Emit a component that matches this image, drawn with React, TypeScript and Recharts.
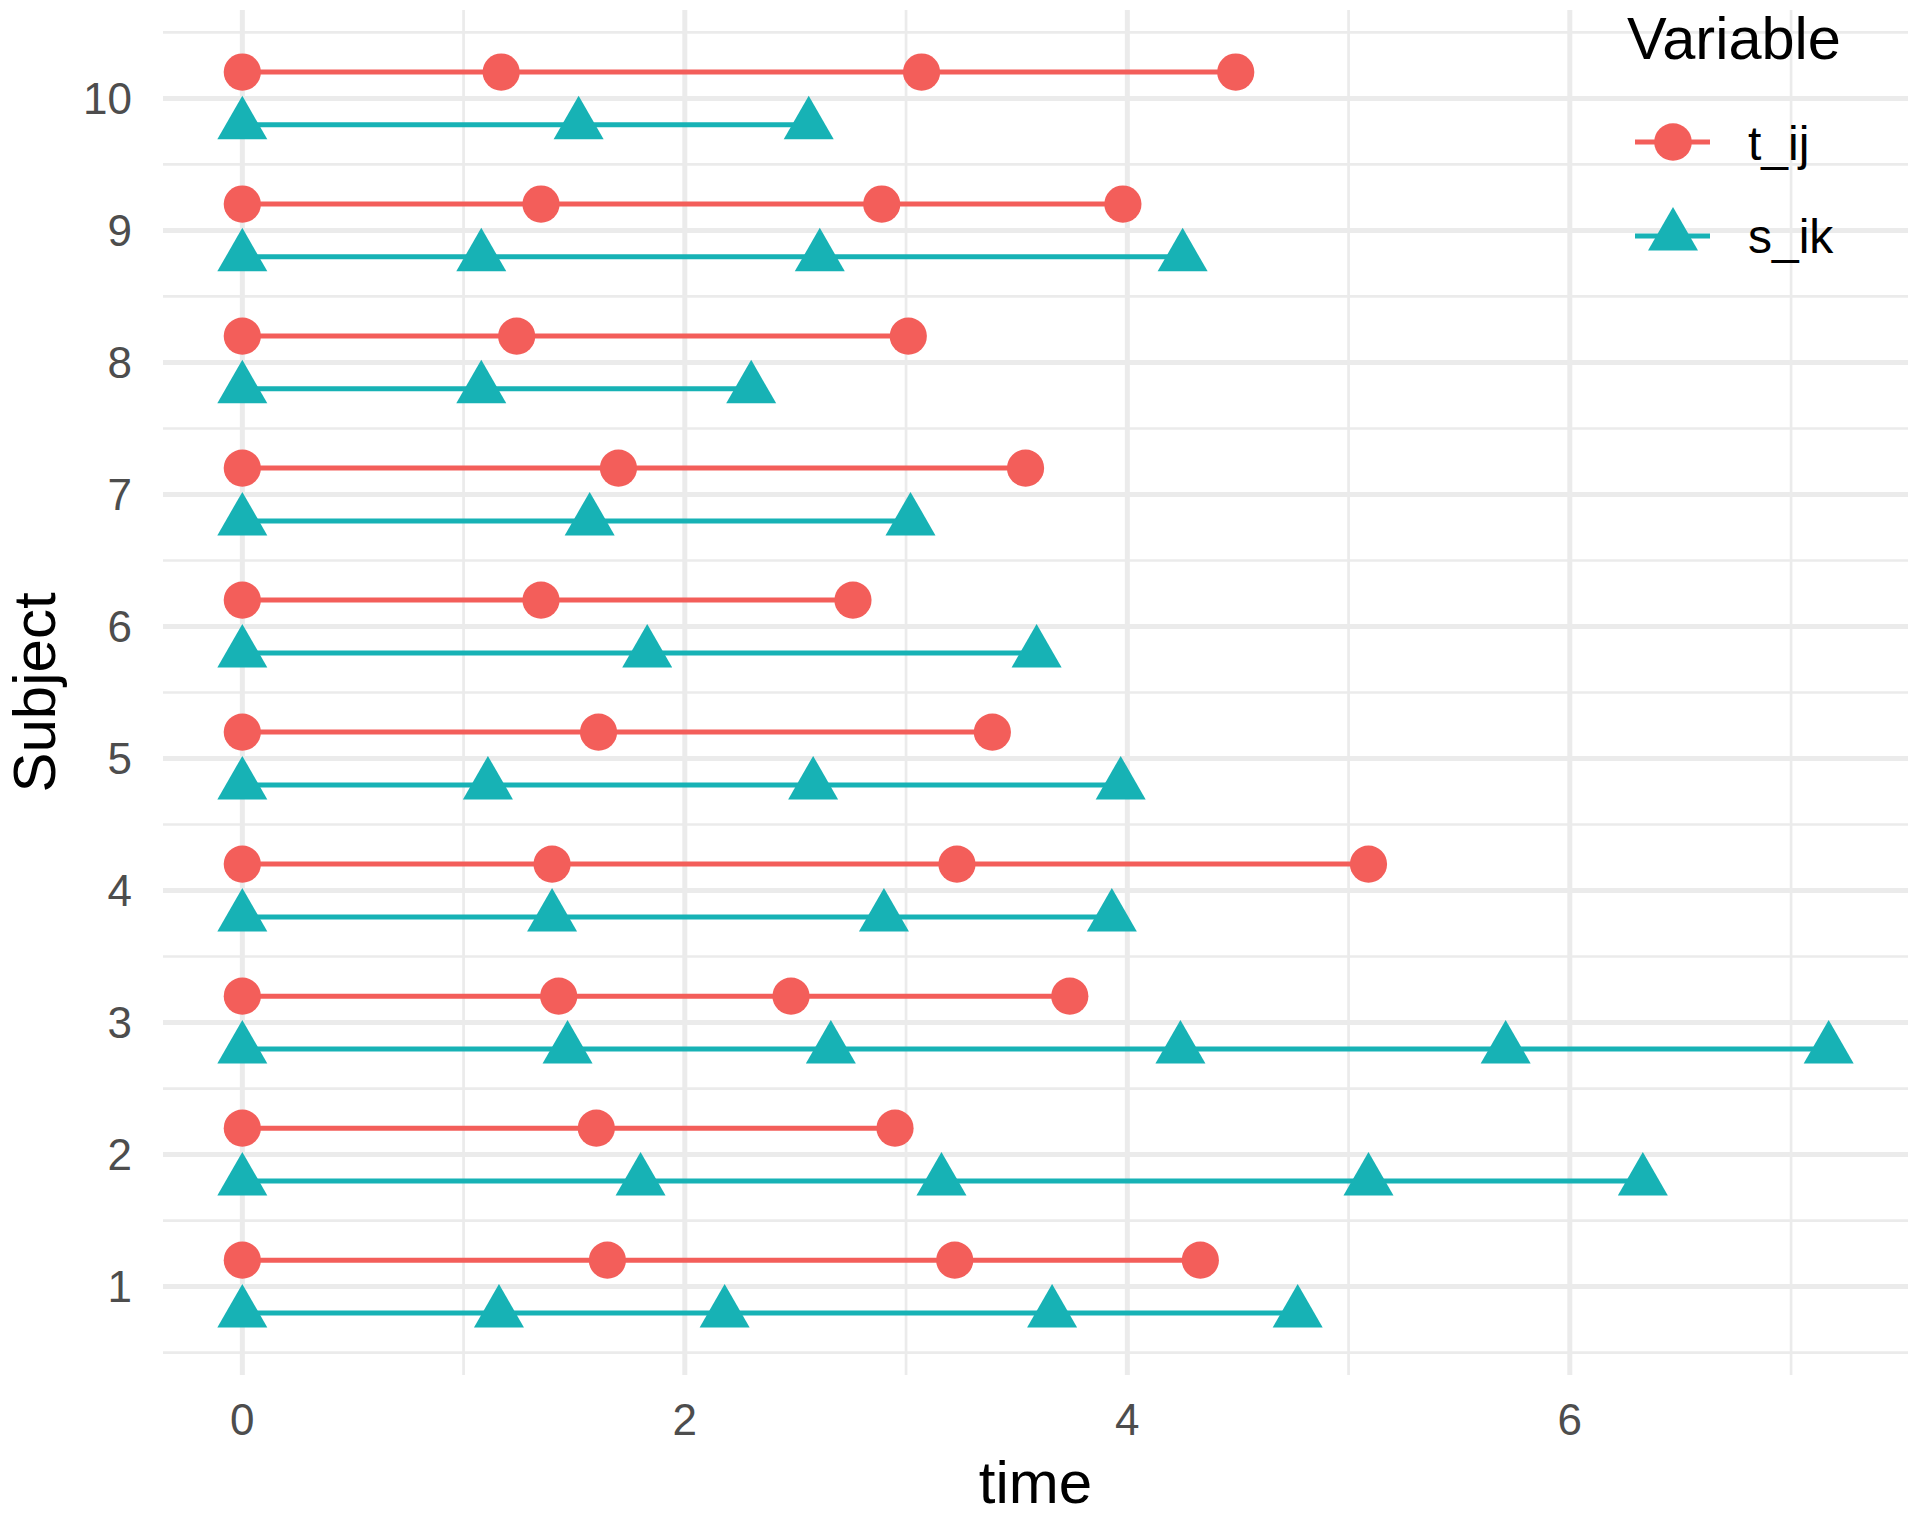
import React from 'react';
import {
  ScatterChart,
  Scatter,
  XAxis,
  YAxis,
  CartesianGrid,
  ReferenceLine,
  Legend,
  Label,
} from 'recharts';

// ---------------- data ----------------
const subjects: number[] = [1, 2, 3, 4, 5, 6, 7, 8, 9, 10];
const variableNames: string[] = ['t_ij', 's_ik'];

// t_ij event times per subject (index 0 = subject 1)
const tij: number[][] = [
  [0, 1.65, 3.22, 4.33],
  [0, 1.6, 2.95],
  [0, 1.43, 2.48, 3.74],
  [0, 1.4, 3.23, 5.09],
  [0, 1.61, 3.39],
  [0, 1.35, 2.76],
  [0, 1.7, 3.54],
  [0, 1.24, 3.01],
  [0, 1.35, 2.89, 3.98],
  [0, 1.17, 3.07, 4.49],
];

// s_ik event times per subject (index 0 = subject 1)
const sik: number[][] = [
  [0, 1.16, 2.18, 3.66, 4.77],
  [0, 1.8, 3.16, 5.09, 6.33],
  [0, 1.47, 2.66, 4.24, 5.71, 7.17],
  [0, 1.4, 2.9, 3.93],
  [0, 1.11, 2.58, 3.97],
  [0, 1.83, 3.59],
  [0, 1.57, 3.02],
  [0, 1.08, 2.3],
  [0, 1.08, 2.61, 4.25],
  [0, 1.52, 2.56],
];

const xTicks: number[] = [0, 2, 4, 6];
const xMinor: number[] = [1, 3, 5, 7];
const yTicks: number[] = subjects;
const yMinor: number[] = [0.5, 1.5, 2.5, 3.5, 4.5, 5.5, 6.5, 7.5, 8.5, 9.5, 10.5];

// ---------------- style ----------------
const RED = '#F35E5A';
const TEAL = '#17B2B5';
const GRID = '#EBEBEB';
const FONT = '"Liberation Sans", Arial, Helvetica, sans-serif';
const DODGE = 0.2;

const X_DOMAIN: [number, number] = [-0.3585, 7.5285];
const Y_DOMAIN: [number, number] = [0.33, 10.67];

const CircleShape = (props: any) => {
  const { cx, cy } = props;
  if (cx == null || cy == null) return <g />;
  return <circle cx={cx} cy={cy} r={18.6} fill={RED} />;
};

const TriangleShape = (props: any) => {
  const { cx, cy } = props;
  if (cx == null || cy == null) return <g />;
  const h = 43.5;
  const w = 50;
  const top = cy - (2 * h) / 3;
  const bottom = cy + h / 3;
  return (
    <path
      d={`M${cx},${top}L${cx + w / 2},${bottom}L${cx - w / 2},${bottom}Z`}
      fill={TEAL}
    />
  );
};

const LegendContent = () => (
  <svg width={360} height={300} style={{ display: 'block' }}>
    <text x={67} y={59} fontSize={59.5} fontFamily={FONT} fill="#000">
      Variable
    </text>
    <line x1={75} x2={150} y1={142} y2={142} stroke={RED} strokeWidth={5} />
    <circle cx={113} cy={142} r={18.8} fill={RED} />
    <text x={188} y={160} fontSize={48} fontFamily={FONT} fill="#000">
      {variableNames[0]}
    </text>
    <line x1={75} x2={150} y1={236} y2={236} stroke={TEAL} strokeWidth={5} />
    <path d="M113,207L138,250.5L88,250.5Z" fill={TEAL} />
    <text x={188} y={253} fontSize={48} fontFamily={FONT} fill="#000">
      {variableNames[1]}
    </text>
  </svg>
);

const XTitle = (props: any) => {
  const vb = props.viewBox || {};
  return (
    <text
      x={vb.x + vb.width / 2}
      y={vb.y + vb.height - 13}
      textAnchor="middle"
      fontSize={60}
      fontFamily={FONT}
      fill="#000"
    >
      time
    </text>
  );
};

const YTitle = (props: any) => {
  const vb = props.viewBox || {};
  const cx = vb.x + 55;
  const cy = vb.y + vb.height / 2;
  return (
    <text
      x={cx}
      y={cy}
      transform={`rotate(-90 ${cx} ${cy})`}
      textAnchor="middle"
      fontSize={60}
      fontFamily={FONT}
      fill="#000"
    >
      Subject
    </text>
  );
};

export default function App() {
  return (
    <div style={{ position: 'absolute', left: 0, top: 0, width: 1920, height: 1516, background: '#fff' }}>
      <ScatterChart
        width={1920}
        height={1516}
        margin={{ top: 10, right: 12, bottom: 0, left: 0 }}
      >
        {xMinor.map((v) => (
          <ReferenceLine key={`xm${v}`} x={v} stroke={GRID} strokeWidth={2.7} zIndex={-100} />
        ))}
        {yMinor.map((v) => (
          <ReferenceLine key={`ym${v}`} y={v} stroke={GRID} strokeWidth={2.7} zIndex={-100} />
        ))}
        <CartesianGrid stroke={GRID} strokeWidth={5} syncWithTicks />
        <XAxis
          type="number"
          dataKey="time"
          domain={X_DOMAIN}
          ticks={xTicks}
          interval={0}
          allowDataOverflow
          axisLine={false}
          tickLine={false}
          tickSize={0}
          tickMargin={29}
          height={141}
          tick={{ fontSize: 44, fill: '#4D4D4D', fontFamily: FONT }}
        >
          <Label content={XTitle} />
        </XAxis>
        <YAxis
          type="number"
          dataKey="y"
          domain={Y_DOMAIN}
          ticks={yTicks}
          interval={0}
          allowDataOverflow
          axisLine={false}
          tickLine={false}
          tickSize={0}
          tickMargin={31}
          width={163}
          tick={{ fontSize: 44, fill: '#4D4D4D', fontFamily: FONT }}
        >
          <Label content={YTitle} />
        </YAxis>
        {subjects.map((s, i) => (
          <Scatter
            key={`s${s}`}
            name={variableNames[1]}
            data={sik[i].map((t) => ({ time: t, y: s - DODGE }))}
            line={{ stroke: TEAL, strokeWidth: 5 }}
            lineType="joint"
            shape={TriangleShape}
            isAnimationActive={false}
            legendType="none"
          />
        ))}
        {subjects.map((s, i) => (
          <Scatter
            key={`t${s}`}
            name={variableNames[0]}
            data={tij[i].map((t) => ({ time: t, y: s + DODGE }))}
            line={{ stroke: RED, strokeWidth: 5 }}
            lineType="joint"
            shape={CircleShape}
            isAnimationActive={false}
            legendType="none"
          />
        ))}
        <Legend
          layout="horizontal"
          verticalAlign="middle"
          align="center"
          content={LegendContent}
          wrapperStyle={{ top: 0, left: 1560, width: 360, height: 300 }}
        />
      </ScatterChart>
    </div>
  );
}
